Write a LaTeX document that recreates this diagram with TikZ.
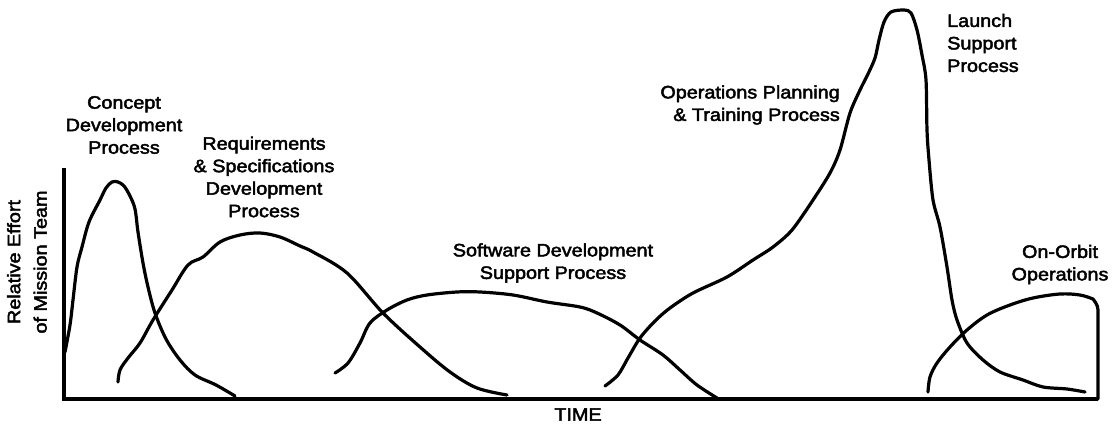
\documentclass[tikz,border=0pt]{standalone}
\usepackage{fontspec}
\setmainfont{Liberation Sans}[FakeStretch=1.1,FakeBold=2.5]
\begin{document}
\begin{tikzpicture}[x=1pt,y=-1pt,
  curve/.style={line width=3.2pt,line cap=round,line join=round},
  axis/.style={line width=3.2pt},
  lbl/.style={inner sep=0pt,font=\fontsize{18}{22.5}\selectfont}]
\useasboundingbox (0,0) rectangle (1117,430);

% axes
\coordinate (top) at (64,168);
\coordinate (origin) at (64,399);
\coordinate (right) at (1098,399);
\draw[axis] (top) -- (origin) -- (right);

% concept development
\draw[curve] plot[smooth,tension=0.55] coordinates {
  (65,352) (70,325) (73,300) (77,267) (82,247) (89,222) (100,200) (106,188)
  (112,182) (118,182) (124,186) (130,196) (135,209) (138,232) (143,263)
  (148,287) (155,313) (166,339) (180,360) (195,375) (216,385) (235,396)};

% requirements & specifications
\draw[curve] plot[smooth,tension=0.55] coordinates {
  (118,382) (120,370) (128,358) (140,343) (153,320) (172,290) (188,265)
  (203,257) (220,242) (240,235) (260,233) (280,237) (300,246) (313,252)
  (347,273) (383,313) (420,347) (450,372) (477,388) (507,395)};

% software development support
\draw[curve] plot[smooth,tension=0.55] coordinates {
  (335,373) (348,363) (360,343) (370,323) (387,310) (407,300) (427,295)
  (457,292) (480,292) (513,295) (547,302) (580,307) (597,313) (620,325)
  (640,340) (663,355) (680,370) (697,385) (717,398)};

% operations planning, training and launch support
\draw[curve] plot[smooth,tension=0.5] coordinates {
  (605,386) (618,375) (628,358) (640,338) (655,321) (670,308) (693,293)
  (727,277) (753,260) (773,247) (792,230) (813,200) (830,173) (840,150)
  (850,113) (860,90) (868,74) (875,58) (879,40) (884,22) (891,12) (904,10)
  (911,13) (917,30) (922,55) (926,80) (927,130) (929,160) (933,200)
  (940,227) (947,267) (952,300) (957,320) (967,343) (983,360) (1000,372)
  (1023,380) (1043,387) (1067,389) (1085,392)};

% on-orbit operations
\draw[curve] plot[smooth,tension=0.55] coordinates {
  (928,392) (930,377) (937,363) (950,347) (967,330) (987,315) (1010,305)
  (1033,298) (1060,294) (1080,295) (1093,299)}
  [rounded corners=4pt] -- (1098,306) -- (right);

% labels
\node[lbl,align=center] (concept) at (124,125) {Concept\\Development\\Process};
\node[lbl,align=center] (req) at (264,177) {Requirements\\\& Specifications\\Development\\Process};
\node[lbl,align=center] (sw) at (553,263) {Software Development\\Support Process};
\node[lbl,align=right,anchor=east] (ops) at (840,105) {Operations Planning\\\& Training Process};
\node[lbl,align=left,anchor=west] (launch) at (947,43) {Launch\\Support\\Process};
\node[lbl,align=center] (orbit) at (1060,264.5) {On-Orbit\\Operations};
\node[lbl] (time) at (578,414.5) {TIME};
\node[inner sep=0pt,align=center,rotate=90,font=\fontsize{18}{26.5}\selectfont] (effort) at (27,262) {Relative Effort\\of Mission Team};
\end{tikzpicture}
\end{document}
